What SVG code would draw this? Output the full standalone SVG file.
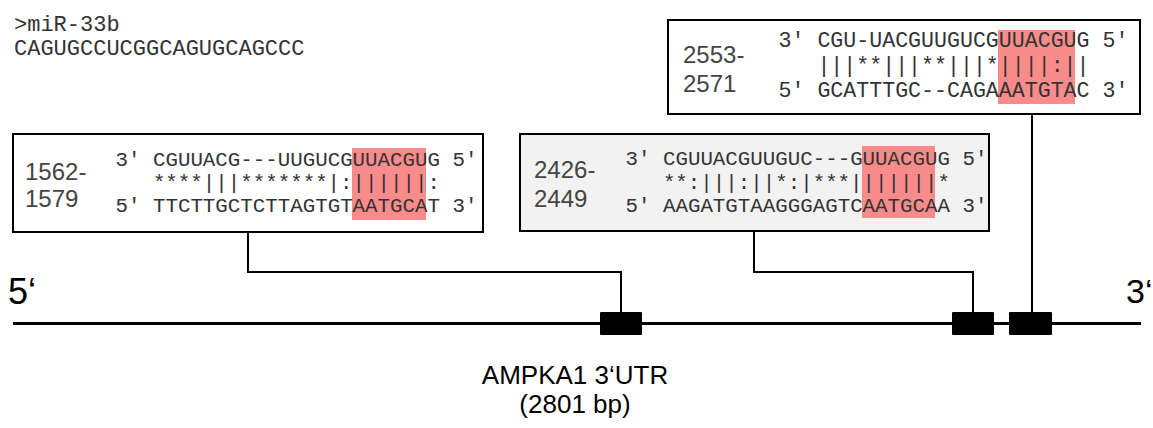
<svg xmlns="http://www.w3.org/2000/svg" width="1153" height="428" viewBox="0 0 1153 428">
<style>
.seq{font-family:"Liberation Mono","Courier New",monospace;fill:#333;white-space:pre}
.s1{font-size:20.8px}
.s3{font-size:21.6px}
.lab{font-family:"Liberation Sans",Arial,sans-serif;font-size:24px;fill:#444}
.big{font-family:"Liberation Sans",Arial,sans-serif;fill:#000}
.box{stroke:#000;stroke-width:2}
.hl{fill:#f98b8b}
.conn{fill:none;stroke:#000;stroke-width:2}
.site{fill:#000}
</style>
<rect width="1153" height="428" fill="#fff"/>
<g id="mirna">
<text class="seq" x="14" y="31" font-size="22">&gt;miR-33b</text>
<text class="seq" x="14" y="55" font-size="22">CAGUGCCUCGGCAGUGCAGCCC</text>
</g>
<g id="utr">
<line x1="13" y1="323.5" x2="1141" y2="323.5" stroke="#000" stroke-width="3"/>
<text class="big" x="8" y="304" font-size="36">5‘</text>
<text class="big" x="1126" y="303" font-size="34">3‘</text>
<text class="big" x="575" y="384" font-size="26" text-anchor="middle">AMPKA1 3‘UTR</text>
<text class="big" x="575" y="413" font-size="26" text-anchor="middle">(2801 bp)</text>
</g>
<g id="site1"><rect class="site" x="600" y="312" width="42" height="23" rx="1"/></g>
<g id="site2"><rect class="site" x="952" y="312" width="42" height="23" rx="1"/></g>
<g id="site3"><rect class="site" x="1009" y="312" width="43" height="23" rx="1"/></g>
<g id="connectors">
<polyline class="conn" points="248,233 248,272 621,272 621,312"/>
<polyline class="conn" points="754,232 754,272 973,272 973,312"/>
<polyline class="conn" points="1032,114 1032,312"/>
</g>
<g id="box1">
<rect class="box" x="13" y="134" width="470" height="98" fill="#fff"/>
<rect class="hl" x="352" y="148" width="74" height="72"/>
<text class="lab" x="25" y="180">1562-</text>
<text class="lab" x="25" y="207">1579</text>
<text class="seq s1" x="115.5" y="166">3' CGUUACG---UUGUCGUUACGUG 5'</text>
<text class="seq s1" x="152.9" y="189">****|||*******|:||||||:</text>
<text class="seq s1" x="115.5" y="212">5' TTCTTGCTCTTAGTGTAATGCAT 3'</text>
</g>
<g id="box2">
<rect class="box" x="520" y="134" width="469" height="97" fill="#f2f2f2"/>
<rect class="hl" x="862" y="146" width="73" height="72"/>
<text class="lab" x="534" y="178">2426-</text>
<text class="lab" x="534" y="207">2449</text>
<text class="seq s1" x="625.5" y="165">3' CGUUACGUUGUC---GUUACGUG 5'</text>
<text class="seq s1" x="662.9" y="189">**:|||:||*:|***|||||||*</text>
<text class="seq s1" x="625.5" y="212">5' AAGATGTAAGGGAGTCAATGCAA 3'</text>
</g>
<g id="box3">
<rect class="box" x="668" y="20" width="472" height="94" fill="#fff"/>
<rect class="hl" x="998" y="30" width="77" height="74"/>
<text class="lab" x="683" y="63">2553-</text>
<text class="lab" x="683" y="92">2571</text>
<text class="seq s3" x="778.5" y="47">3' CGU-UACGUUGUCGUUACGUG 5'</text>
<text class="seq s3" x="817.4" y="72">|||**|||**|||*||||:||</text>
<text class="seq s3" x="778.5" y="97">5' GCATTTGC--CAGAAATGTAC 3'</text>
</g>
</svg>
